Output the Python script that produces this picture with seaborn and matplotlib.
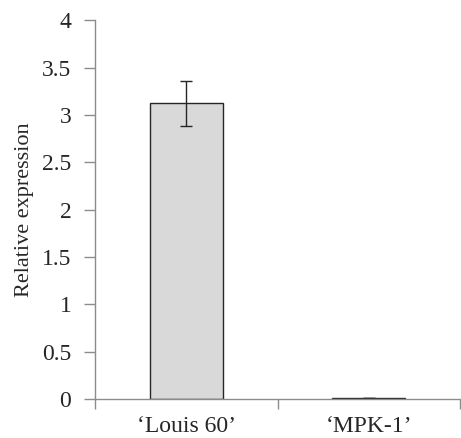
import numpy as np
import pandas as pd
import seaborn as sns
import matplotlib.pyplot as plt

cultivars = ["\u2018Louis 60\u2019", "\u2018MPK-1\u2019"]
expression = [3.12, 0.01]
errors = [0.24, 0.0]
ytick_labels = ["0", "0.5", "1", "1.5", "2", "2.5", "3", "3.5", "4"]

df = pd.DataFrame({"cultivar": cultivars, "expr": expression})

sns.set_style("white")
plt.rcParams["font.family"] = ["Liberation Serif", "DejaVu Serif"]

fig = plt.figure(figsize=(4.61, 4.38), dpi=100)
ax = fig.add_axes([0.206, 0.089, 0.792, 0.865])

sns.barplot(data=df, x="cultivar", y="expr", color="#d9d9d9", width=0.4,
            edgecolor="#262626", linewidth=1.0, saturation=1, ax=ax)
ax.errorbar(range(len(cultivars)), expression, yerr=errors, fmt="none",
            ecolor="#262626", elinewidth=1.0, capsize=4.3, capthick=1.0)

ax.set_ylim(0, 4)
ax.set_xlim(-0.5, 1.5)
ax.set_yticks(np.arange(0, 4.01, 0.5))
ax.set_yticklabels(ytick_labels)
# category boundaries get the tick marks, names sit between them
ax.set_xticks([-0.5, 0.5, 1.5], minor=False)
ax.set_xticklabels(["", "", ""])
ax.set_xticks([0, 1], minor=True)
ax.set_xticklabels(cultivars, minor=True)
ax.tick_params(axis="x", which="major", length=7, width=1, color="#8c8c8c", direction="out", bottom=True)
ax.tick_params(axis="x", which="minor", length=0, labelsize=17, pad=12)
ax.tick_params(axis="y", length=8, width=1, color="#8c8c8c", direction="out", left=True, labelsize=17, pad=9)

for s in ["top", "right"]:
    ax.spines[s].set_visible(False)
for s in ["left", "bottom"]:
    ax.spines[s].set_color("#8c8c8c")
    ax.spines[s].set_linewidth(1)

ax.set_xlabel("")
ax.set_ylabel("Relative expression", fontsize=16, labelpad=6)

fig.savefig("out.png", dpi=100)
